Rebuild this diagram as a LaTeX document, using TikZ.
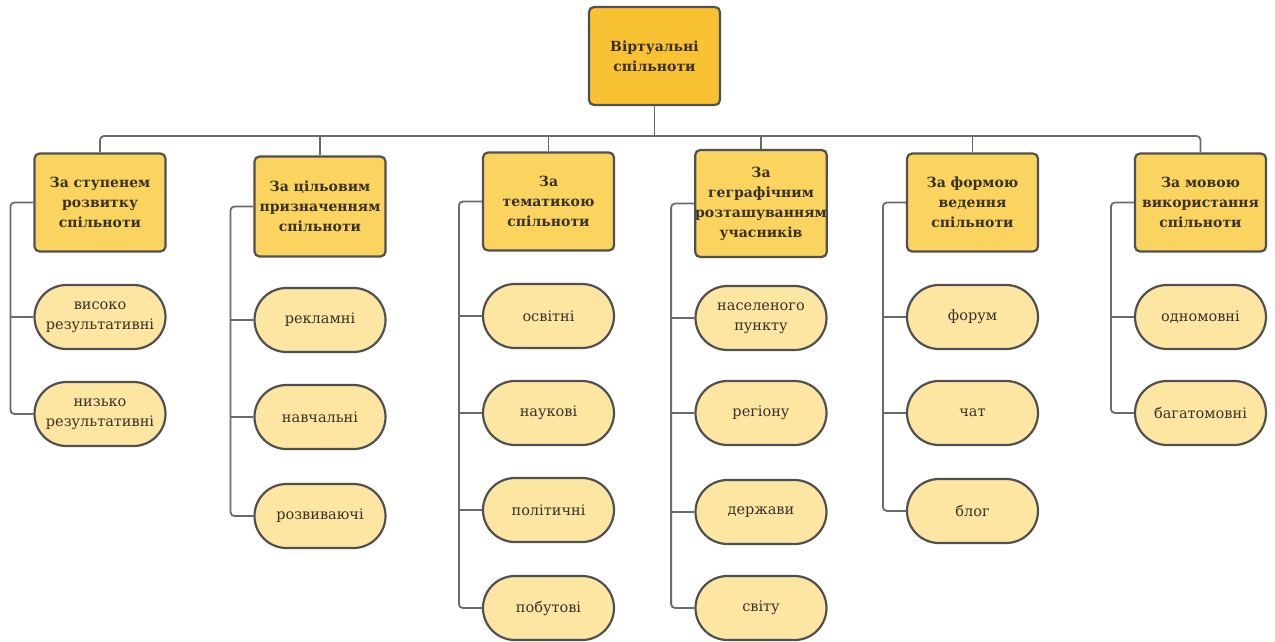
\documentclass[tikz,border=0pt]{standalone}
\usepackage{fontspec}
\setmainfont{DejaVu Serif}
\definecolor{rootfill}{HTML}{F9C233}
\definecolor{catfill}{HTML}{FAD45F}
\definecolor{leaffill}{HTML}{FDE6A2}
\definecolor{edge}{HTML}{505050}
\definecolor{wire}{HTML}{6A6A6A}
\definecolor{txt}{HTML}{38322A}
\begin{document}
\begin{tikzpicture}[x=1pt,y=-1pt,
  box/.style={draw=edge,line width=2.2pt,rounded corners=5pt,align=center,
    text=txt,inner sep=0pt,minimum width=131pt},
  rootbox/.style={box,fill=rootfill,minimum height=98pt,
    font=\bfseries\fontsize{14}{20}\selectfont},
  catbox/.style={box,fill=catfill,minimum height=98pt,
    font=\bfseries\fontsize{14}{20}\selectfont},
  leaf/.style={draw=edge,line width=2.2pt,rounded corners=32pt,fill=leaffill,
    align=center,text=txt,inner sep=0pt,minimum width=131pt,minimum height=64pt,
    font=\fontsize{14.5}{20}\selectfont},
  wire/.style={draw=wire,line width=1.8pt,rounded corners=4pt}]
\useasboundingbox[fill=white] (0,0) rectangle (1275,642);

% root
\node[rootbox] (root) at (654.5,56) {Віртуальні\\спільноти};
\coordinate (bus) at (654.5,136);

% categories
\node[catbox] (c1) at (100,202.5) {За ступенем\\розвитку\\спільноти};
\node[catbox,minimum height=100pt] (c2) at (320,206.5) {За цільовим\\призначенням\\спільноти};
\node[catbox] (c3) at (548.5,201.5) {За\\тематикою\\спільноти};
\node[catbox,minimum height=107pt] (c4) at (761,203.5) {За\\геграфічним\\розташуванням\\учасників};
\node[catbox] (c5) at (972.5,202.5) {За формою\\ведення\\спільноти};
\node[catbox] (c6) at (1200.5,202.5) {За мовою\\використання\\спільноти};

% leaves, column 1
\node[leaf] (l11) at (100,317) {високо\\результативні};
\node[leaf] (l12) at (100,414) {низько\\результативні};
% column 2
\node[leaf] (l21) at (320,320) {рекламні};
\node[leaf] (l22) at (320,417) {навчальні};
\node[leaf] (l23) at (320,516) {розвиваючі};
% column 3
\node[leaf] (l31) at (548.5,316) {освітні};
\node[leaf] (l32) at (548.5,413) {наукові};
\node[leaf] (l33) at (548.5,510) {політичні};
\node[leaf] (l34) at (548.5,608) {побутові};
% column 4
\node[leaf] (l41) at (761,318) {населеного\\пункту};
\node[leaf] (l42) at (761,413) {регіону};
\node[leaf] (l43) at (761,512) {держави};
\node[leaf] (l44) at (761,608) {світу};
% column 5
\node[leaf] (l51) at (972.5,317) {форум};
\node[leaf] (l52) at (972.5,413) {чат};
\node[leaf] (l53) at (972.5,511) {блог};
% column 6
\node[leaf] (l61) at (1200.5,317) {одномовні};
\node[leaf] (l62) at (1200.5,413) {багатомовні};

% trunk and bus
\draw[wire] (root.south) -- (bus);
\draw[wire] (c1.north) |- (bus) -| (c6.north);
\foreach \c in {c2,c3,c4,c5}
  \draw[wire] (\c.north) -- (\c.north |- bus);

% side spines
\foreach \c/\last/\rest in {c1/l12/{l11},c2/l23/{l21,l22},c3/l34/{l31,l32,l33},
    c4/l44/{l41,l42,l43},c5/l53/{l51,l52},c6/l62/{l61}}{
  \coordinate (sp) at ([xshift=-23pt]\c.west);
  \draw[wire] (\c.west) -- (sp) |- (\last.west);
  \foreach \l in \rest
    \draw[wire] (\l.west) -- (\l.west -| sp);
}
\end{tikzpicture}
\end{document}
